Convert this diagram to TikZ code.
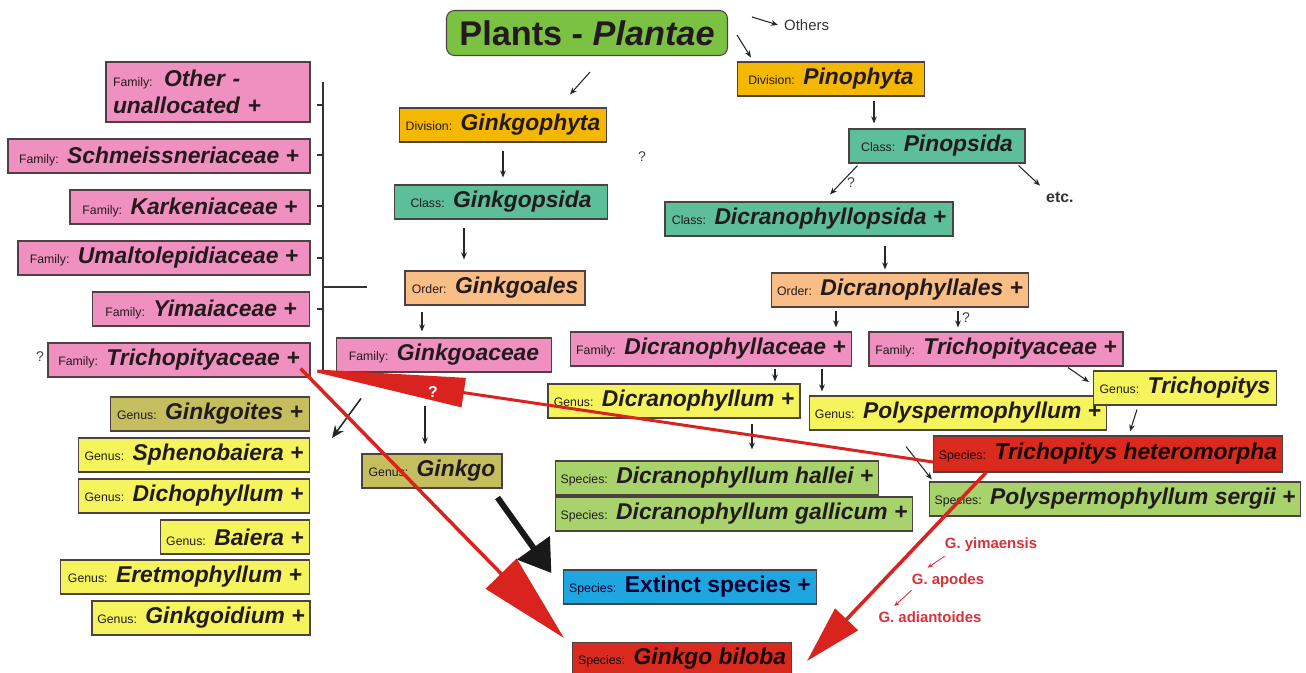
\documentclass[tikz,border=0pt]{standalone}
\usepackage{fontspec}
\setmainfont{Liberation Sans}
\usepackage{xcolor}
\usetikzlibrary{positioning, arrows.meta, calc}
\definecolor{plantgreen}{HTML}{7CC242}
\definecolor{divgold}{HTML}{F5B800}
\definecolor{clsteal}{HTML}{5DBF9A}
\definecolor{ordpeach}{HTML}{F8BE86}
\definecolor{fampink}{HTML}{EF90C0}
\definecolor{genyellow}{HTML}{F6F45C}
\definecolor{genolive}{HTML}{C5BE5E}
\definecolor{spcgreen}{HTML}{A8D26C}
\definecolor{extblue}{HTML}{1EA6E0}
\definecolor{sppred}{HTML}{DA2A1E}
\definecolor{arrred}{HTML}{D8231F}
\definecolor{redtext}{HTML}{D5323C}
\definecolor{boxline}{HTML}{4D4141}
\definecolor{nametext}{HTML}{231A1E}

\newcommand\rk[1]{{\fontsize{7}{8}\selectfont\mdseries\upshape #1}}
\newcommand\nm[1]{{\bfseries\itshape #1}}

\begin{document}
\begin{tikzpicture}[
  x=0.02cm, y=-0.02cm,
  box/.style={
    rectangle, draw=boxline, line width=0.6pt,
    minimum height=0.68cm, inner xsep=3pt, inner ysep=1pt,
    font=\fontsize{13}{15}\selectfont, text=nametext
  },
  bw/.style={minimum width=#1*0.02cm},
  divbox/.style={box, fill=divgold},
  clsbox/.style={box, fill=clsteal},
  ordbox/.style={box, fill=ordpeach},
  fambox/.style={box, fill=fampink},
  genbox/.style={box, fill=genyellow},
  olvbox/.style={box, fill=genolive},
  spcbox/.style={box, fill=spcgreen},
  redbox/.style={box, fill=sppred, text=black!90!sppred},
  note/.style={font=\fontsize{8.5}{10}\selectfont, text=black!80},
  qmark/.style={font=\fontsize{8}{10}\selectfont, text=black!75},
  redname/.style={font=\fontsize{8.5}{10}\selectfont\bfseries, text=redtext, inner sep=0pt},
  arr/.style={-{Stealth[length=4pt, width=3.2pt]}, line width=0.6pt, color=black!85},
  redarr/.style={-{Stealth[length=3pt, width=2.5pt]}, line width=0.5pt, color=redtext},
  redline/.style={line width=2pt, color=arrred},
  brk/.style={line width=1pt, color=black!80},
]
\useasboundingbox (0,0) rectangle (1306,673);

% Root
\node[box, fill=plantgreen, rounded corners=0.16cm, bw=281, minimum height=0.9cm,
  font=\fontsize{19.5}{22}\selectfont\bfseries] (plantae) at (587,33) {Plants - \textit{Plantae}};
\node[note, anchor=west] (others) at (778,25) {Others};

% Ginkgophyta branch
\node[divbox, bw=207] (gphyta) at (503,125) {\rk{Division:} \nm{Ginkgophyta}};
\node[clsbox, bw=213] (gpsida) at (501,202) {\rk{Class:} \nm{Ginkgopsida}};
\node[ordbox, bw=180] (gales) at (495,288) {\rk{Order:} \nm{Ginkgoales}};
\node[fambox, bw=215] (gaceae) at (444,355) {\rk{Family:} \nm{Ginkgoaceae}};
\node[olvbox, bw=140] (ginkgo) at (432,471) {\rk{Genus:} \nm{Ginkgo}};
\node[box, fill=extblue, text=black!80!blue, bw=250] (extinct) at (690,587) {\rk{Species:} \textbf{Extinct species +}};
\node[redbox, bw=219, minimum height=0.66cm] (biloba) at (682,659) {\rk{Species:} \nm{Ginkgo biloba}};

% Pinophyta branch
\node[divbox, bw=187] (pphyta) at (831,79) {\rk{Division:} \nm{Pinophyta}};
\node[clsbox, bw=176] (ppsida) at (937,146) {\rk{Class:} \nm{Pinopsida}};
\node[note, font=\fontsize{9}{10}\selectfont\bfseries, anchor=west] (etc) at (1040,197) {etc.};
\node[clsbox, bw=288] (dcpsida) at (809,219) {\rk{Class:} \nm{Dicranophyllopsida +}};
\node[ordbox, bw=256] (dcales) at (900,290) {\rk{Order:} \nm{Dicranophyllales +}};
\node[fambox, bw=281] (dcaceae) at (711,349) {\rk{Family:} \nm{Dicranophyllaceae +}};
\node[fambox, bw=254] (tpaceaeR) at (996,349) {\rk{Family:} \nm{Trichopityaceae +}};
\node[genbox, bw=252] (dcphyllum) at (674,401) {\rk{Genus:} \nm{Dicranophyllum +}};
\node[genbox, bw=294] (psphyllum) at (958,413) {\rk{Genus:} \nm{Polyspermophyllum +}};
\node[genbox, bw=183] (trichopitys) at (1185,388) {\rk{Genus:} \nm{Trichopitys}};
\node[redbox, bw=347, minimum height=0.72cm] (hetero) at (1108,454) {\rk{Species:} \nm{Trichopitys heteromorpha}};
\node[spcbox, bw=322] (hallei) at (717,478) {\rk{Species:} \nm{Dicranophyllum hallei +}};
\node[spcbox, bw=356] (gallicum) at (734,514) {\rk{Species:} \nm{Dicranophyllum gallicum +}};
\node[spcbox, bw=371] (sergii) at (1115,499) {\rk{Species:} \nm{Polyspermophyllum sergii +}};

% Families on the left
\node[fambox, bw=204, minimum height=1.2cm, text width=3.8cm, align=left] (fOther) at (208,92) {\rk{Family:} \nm{Other -}\\\nm{unallocated +}};
\node[fambox, bw=302] (fSchm) at (159,156) {\rk{Family:} \nm{Schmeissneriaceae +}};
\node[fambox, bw=240] (fKark) at (190,207) {\rk{Family:} \nm{Karkeniaceae +}};
\node[fambox, bw=292] (fUmal) at (164,258) {\rk{Family:} \nm{Umaltolepidiaceae +}};
\node[fambox, bw=217] (fYima) at (201,309) {\rk{Family:} \nm{Yimaiaceae +}};
\node[fambox, bw=262] (tpaceaeL) at (179,360) {\rk{Family:} \nm{Trichopityaceae +}};

% Genera on the left
\node[olvbox, bw=199] (gGinkgoites) at (210,414) {\rk{Genus:} \nm{Ginkgoites +}};
\node[genbox, bw=231] (gSphen) at (194,455) {\rk{Genus:} \nm{Sphenobaiera +}};
\node[genbox, bw=231] (gDicho) at (194,496) {\rk{Genus:} \nm{Dichophyllum +}};
\node[genbox, bw=149] (gBaiera) at (235,537) {\rk{Genus:} \nm{Baiera +}};
\node[genbox, bw=249] (gEretmo) at (185,577) {\rk{Genus:} \nm{Eretmophyllum +}};
\node[genbox, bw=218] (gGinkgoidium) at (201,618) {\rk{Genus:} \nm{Ginkgoidium +}};

% Living relatives
\node[redname] (yima) at (991,545) {G. yimaensis};
\node[redname] (apodes) at (948,581) {G. apodes};
\node[redname] (adiant) at (930,617) {G. adiantoides};

% Question marks
\node[qmark] (q1) at (642,157) {?};
\node[qmark] (q2) at (851,183) {?};
\node[qmark] (q3) at (966,318) {?};
\node[qmark] (q4) at (40,357) {?};

% Bracket
\draw[brk] (323,82) -- (323,372);
\foreach \ty in {105,155,206,258,309}
  \draw[brk] (317,\ty) -- (323,\ty);
\draw[brk] (323,287) -- (367,287);

% Arrows
\draw[arr] ([shift={(24,7)}]plantae.north east) -- (others.west);
\draw[arr] ([shift={(9,2)}]plantae.east) -- ([shift={(14,-4)}]pphyta.north west);
\draw[arr] ([shift={(3,16)}]plantae.south) -- ([shift={(67,-13)}]gphyta.north);
\draw[arr, shorten <=0.16cm, shorten >=0.14cm] (gphyta.south) -- (gphyta.south |- gpsida.north);
\draw[arr, shorten <=0.16cm, shorten >=0.22cm] (gpsida.south -| 464,0) -- (gales.north -| 464,0);
\draw[arr, shorten <=0.12cm, shorten >=0.12cm] (gales.south -| 422,0) -- (gaceae.north -| 422,0);
\draw[arr, shorten <=0.66cm, shorten >=0.18cm] (gaceae.south -| 425,0) -- (ginkgo.north -| 425,0);
\draw[arr, line width=0.9pt, -{Stealth[length=7pt, width=6pt]}] ([shift={(25,26)}]gaceae.south west) -- ([shift={(22,24)}]gGinkgoites.east);
\draw[arr, shorten <=0.08cm, shorten >=0.1cm] (pphyta.south -| 874,0) -- (ppsida.north -| 874,0);
\draw[arr] ([shift={(9,2)}]ppsida.south west) -- ([shift={(21,-7)}]dcpsida.north);
\draw[arr] ([shift={(-7,2)}]ppsida.south east) -- (etc.north west);
\draw[arr, shorten <=0.18cm, shorten >=0.06cm] (dcpsida.south -| 885,0) -- (dcales.north -| 885,0);
\draw[arr, shorten <=0.06cm, shorten >=0.08cm] (dcales.south -| 836,0) -- (dcaceae.north -| 836,0);
\draw[arr, shorten <=0.06cm, shorten >=0.08cm] (dcales.south -| 958,0) -- (tpaceaeR.north -| 958,0);
\draw[arr, shorten <=0.04cm, shorten >=0.04cm] (dcaceae.south -| 775,0) -- (dcphyllum.north -| 775,0);
\draw[arr, shorten <=0.04cm, shorten >=0.08cm] (dcaceae.south -| 822,0) -- (psphyllum.north -| 822,0);
\draw[arr] ([shift={(72,1)}]tpaceaeR.south) -- ([shift={(-4,-6)}]trichopitys.west);
\draw[arr] ([shift={(-48,4)}]trichopitys.south) -- ([shift={(22,-4)}]hetero.north);
\draw[arr] ([shift={(-52,16)}]psphyllum.south) -- ([shift={(3,-2)}]sergii.north west);
\draw[arr, shorten <=0.1cm, shorten >=0.22cm] (dcphyllum.south -| 752,0) -- (hallei.north -| 752,0);
\draw[redarr] ([shift={(0,4)}]yima.south west) -- ([shift={(16,-6)}]apodes.north west);
\draw[redarr] ([shift={(0,2)}]apodes.south west) -- ([shift={(16,-5)}]adiant.north west);

% Thick arrow to extinct species
\draw[line width=3.4pt, color=black!90, -{Triangle[length=0.62cm, width=0.78cm]}]
  ([shift={(-5,9)}]ginkgo.south east) -- ([shift={(-12,-14)}]extinct.west);

% Red arrows
\coordinate (tipL) at ([shift={(-10,-9)}]tpaceaeL.south east);
\draw[redline, -{Triangle[length=1.8cm, width=0.85cm]}]
  (tipL) -- ([shift={(-8,-4)}]biloba.north west);
\draw[redline, -{Triangle[length=1.15cm, width=0.62cm]}]
  ([shift={(53,0)}]hetero.south west) -- ([shift={(15,2)}]biloba.east);
\draw[redline, line width=1.7pt, -{Triangle[length=3.3cm, width=0.58cm]}]
  ([shift={(0,8)}]hetero.west) -- (tipL);
\node[font=\fontsize{9}{10}\selectfont\bfseries, text=white] (q5) at (433,392) {?};
\end{tikzpicture}
\end{document}
